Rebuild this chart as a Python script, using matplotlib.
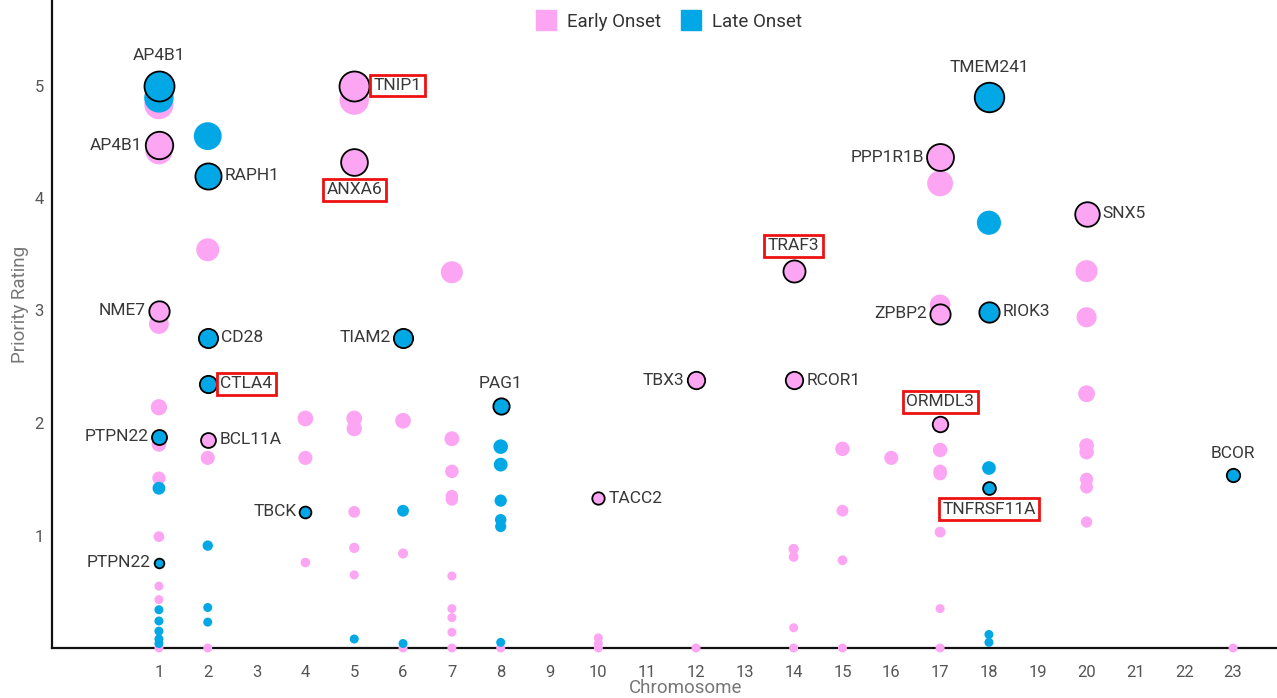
import matplotlib.pyplot as plt
import numpy as np
from matplotlib.lines import Line2D

plt.rcParams['font.family'] = ['Roboto', 'DejaVu Sans']

PINK = '#FCA6F3'
BLUE = '#02A8E6'

# unlabeled genes, one list per onset group
early_chrom = [1, 1, 1, 1, 1, 1, 1, 1, 1, 1,
               2, 2, 2,
               4, 4, 4,
               5, 5, 5, 5, 5, 5,
               6, 6, 6,
               7, 7, 7, 7, 7, 7, 7, 7, 7, 7,
               8,
               10, 10, 10,
               12,
               14, 14, 14, 14,
               15, 15, 15, 15,
               16,
               17, 17, 17, 17, 17, 17, 17, 17,
               20, 20, 20, 20, 20, 20, 20, 20,
               23]
early_rating = [4.83, 4.42, 2.88, 2.14, 1.81, 1.51, 0.99, 0.55, 0.43, 0.0,
                3.54, 1.69, 0.0,
                2.04, 1.69, 0.76,
                4.87, 2.04, 1.95, 1.21, 0.89, 0.65,
                2.02, 0.84, 0.0,
                3.34, 1.86, 1.57, 1.35, 1.32, 0.64, 0.35, 0.27, 0.14, 0.0,
                0.0,
                0.09, 0.04, 0.0,
                0.0,
                0.88, 0.81, 0.18, 0.0,
                1.77, 1.22, 0.78, 0.0,
                1.69,
                4.13, 3.05, 1.76, 1.57, 1.55, 1.03, 0.35, 0.0,
                3.35, 2.94, 2.26, 1.80, 1.74, 1.50, 1.43, 1.12,
                0.0]

late_chrom = [1, 1, 1, 1, 1, 1, 1,
              2, 2, 2, 2,
              5,
              6, 6,
              8, 8, 8, 8, 8, 8,
              18, 18, 18, 18]
late_rating = [4.89, 1.42, 0.34, 0.24, 0.15, 0.08, 0.04,
               4.55, 0.91, 0.36, 0.23,
               0.08,
               1.22, 0.04,
               1.79, 1.63, 1.31, 1.14, 1.08, 0.05,
               3.78, 1.60, 0.12, 0.05]

# labeled genes
genes = ['AP4B1', 'AP4B1', 'NME7', 'PTPN22', 'PTPN22',
         'RAPH1', 'CD28', 'CTLA4', 'BCL11A',
         'TBCK', 'TNIP1', 'ANXA6', 'TIAM2', 'PAG1', 'TACC2', 'TBX3',
         'TRAF3', 'RCOR1', 'PPP1R1B', 'ZPBP2', 'ORMDL3',
         'TMEM241', 'RIOK3', 'TNFRSF11A', 'SNX5', 'BCOR']
gene_chrom = [1, 1, 1, 1, 1,
              2, 2, 2, 2,
              4, 5, 5, 6, 8, 10, 12,
              14, 14, 17, 17, 17,
              18, 18, 18, 20, 23]
gene_rating = [5.0, 4.47, 3.0, 1.88, 0.76,
               4.2, 2.76, 2.35, 1.85,
               1.21, 5.0, 4.32, 2.76, 2.15, 1.33, 2.38,
               3.35, 2.38, 4.36, 2.97, 1.99,
               4.9, 2.99, 1.42, 3.86, 1.54]
gene_onset = ['late', 'early', 'early', 'late', 'late',
              'late', 'late', 'late', 'early',
              'late', 'early', 'early', 'late', 'late', 'early', 'early',
              'early', 'early', 'early', 'early', 'early',
              'late', 'late', 'late', 'early', 'late']
highlighted = ['TNIP1', 'ANXA6', 'CTLA4', 'TRAF3', 'ORMDL3', 'TNFRSF11A']

# where each label sits relative to its point
label_side = ['top', 'left', 'left', 'left', 'left',
              'right', 'right', 'right', 'right',
              'left', 'right', 'bottom', 'left', 'top', 'right', 'left',
              'top', 'right', 'left', 'left', 'top',
              'top', 'right', 'bottom', 'right', 'top']


def diameter(r):
    # px, with a floor so zero-rated genes stay visible
    return np.maximum(6 + 4.8 * np.asarray(r), 9)


def marker_area(r):
    return (diameter(r) * 0.72) ** 2


fig = plt.figure(figsize=(12.77, 6.98), dpi=100)
ax = fig.add_axes([52 / 1277, 50 / 698, 1 - 52 / 1277, 648 / 698])

ax.scatter(early_chrom, early_rating, s=marker_area(early_rating), c=PINK,
           linewidths=0, zorder=3, clip_on=False)
ax.scatter(late_chrom, late_rating, s=marker_area(late_rating), c=BLUE,
           linewidths=0, zorder=3, clip_on=False)

for g, x, y, onset, side in zip(genes, gene_chrom, gene_rating, gene_onset, label_side):
    col = PINK if onset == 'early' else BLUE
    ax.scatter([x], [y], s=marker_area(y), c=col, edgecolors='black',
               linewidths=1.3, zorder=4)
    rad = diameter(y) / 2
    if side == 'top':
        off, ha, va = (0, rad + 7), 'center', 'bottom'
    elif side == 'bottom':
        off, ha, va = (0, -rad - 7), 'center', 'top'
    elif side == 'left':
        off, ha, va = (-rad - 3, 0), 'right', 'center'
    else:
        off, ha, va = (rad + 4, 0), 'left', 'center'
    box = None
    if g in highlighted:
        box = dict(boxstyle='square,pad=0.2', fc='white', ec='#EE1111', lw=2)
    ax.annotate(g, (x, y), xytext=off, textcoords='offset pixels',
                ha=ha, va=va, fontsize=12.5, color='#383838', bbox=box,
                zorder=5)

ax.set_xlim(-1.19, 23.9)
ax.set_ylim(0, 5.76)
ax.set_xticks(range(1, 24))
ax.set_yticks([1, 2, 3, 4, 5])
ax.tick_params(length=0, labelsize=12, labelcolor='#555555', pad=12)
ax.tick_params(axis='y', pad=6)
for s in ['top', 'right']:
    ax.spines[s].set_visible(False)
for s in ['left', 'bottom']:
    ax.spines[s].set_linewidth(1.6)
    ax.spines[s].set_color('#111111')
    ax.spines[s].set_zorder(1)
ax.set_xlabel('Chromosome', fontsize=13.5, color='#777777')
ax.set_ylabel('Priority Rating', fontsize=13.5, color='#777777')
ax.xaxis.set_label_coords(0.517, -0.062)
ax.yaxis.set_label_coords(-0.026, 0.53)
ax.xaxis.label.set_va('center')
ax.yaxis.label.set_va('center')

handles = [Line2D([], [], marker='s', ls='', color=PINK, markersize=14.5),
           Line2D([], [], marker='s', ls='', color=BLUE, markersize=14.5)]
ax.legend(handles, ['Early Onset', 'Late Onset'], ncol=2, frameon=False,
          loc='upper center', bbox_to_anchor=(0.5, 1.006), fontsize=13.5,
          handletextpad=0.1, columnspacing=0.6, labelcolor='#333333')

fig.savefig('out.png', dpi=100)
